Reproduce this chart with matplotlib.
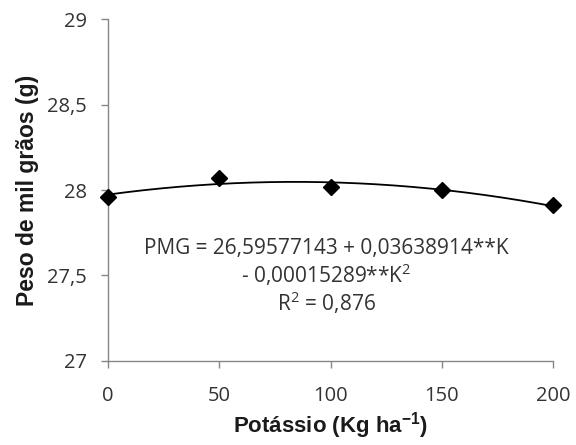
import numpy as np
import matplotlib.pyplot as plt

potassio = [0, 50, 100, 150, 200]
pmg = [27.96, 28.07, 28.02, 28.00, 27.91]
yticks = [27, 27.5, 28, 28.5, 29]
ytick_labels = ['27', '27,5', '28', '28,5', '29']
xticks = [0, 50, 100, 150, 200]

plt.rcParams['mathtext.fontset'] = 'custom'
plt.rcParams['mathtext.rm'] = 'Open Sans'
plt.rcParams['mathtext.bf'] = 'Liberation Sans:bold'

# quadratic trendline through the points
coef = np.polyfit(potassio, pmg, 2)
xs = np.linspace(0, 200, 200)
ys = np.polyval(coef, xs)

fig = plt.figure(figsize=(5.76, 4.45), dpi=100)
ax = fig.add_axes([0.1875, 0.189, 0.773, 0.768])

ax.plot(xs, ys, color='black', linewidth=1.3, zorder=2)
ax.plot(potassio, pmg, linestyle='none', marker='D', markersize=8,
        color='black', zorder=3, clip_on=False)

ax.set_xlim(0, 200)
ax.set_ylim(27, 29)
ax.set_xticks(xticks)
ax.set_yticks(yticks)
ax.set_yticklabels(ytick_labels)

for s in ['top', 'right']:
    ax.spines[s].set_visible(False)
for s in ['left', 'bottom']:
    ax.spines[s].set_color('#868686')
    ax.spines[s].set_linewidth(1.0)
ax.tick_params(direction='out', length=5, color='#868686', width=1.0,
               labelsize=14.5, labelcolor='#333333', pad=10)
ax.tick_params(axis='x', pad=13)
for lab in ax.get_xticklabels() + ax.get_yticklabels():
    lab.set_family('Open Sans')

ax.set_xlabel('Potássio (Kg ha$^{\\mathbf{-1}}$)', fontsize=16, fontweight='bold',
              family='Liberation Sans', color='#1a1a1a', labelpad=3)
ax.set_ylabel('Peso de mil grãos (g)', fontsize=16.5, fontweight='bold',
              family='Liberation Sans', color='#1a1a1a', labelpad=6)

eq = ('PMG = 26,59577143 + 0,03638914**K\n'
      '- 0,00015289**K$^2$\n'
      'R$^2$ = 0,876')
ax.text(98, 27.49, eq, ha='center', va='center', fontsize=15,
        family='Open Sans', color='#333333', linespacing=1.1)

fig.savefig('out.png', dpi=100)
